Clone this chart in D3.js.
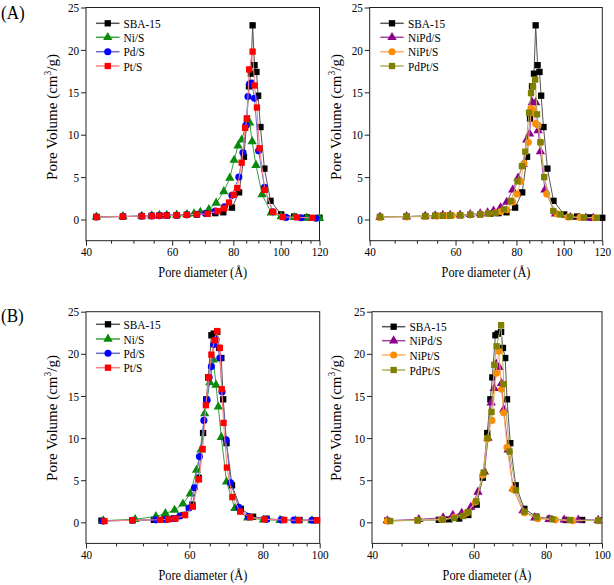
<!DOCTYPE html>
<html><head><meta charset="utf-8">
<script src="https://cdn.jsdelivr.net/npm/d3@7"></script>
<style>
html,body{margin:0;padding:0;background:#fff;}
svg{display:block;font-family:"Liberation Serif","Times New Roman",serif;}
</style></head><body>
<svg id="chart" width="614" height="585"></svg>
<script>
// ---------- DATA: [pore diameter (Å), pore volume (cm3/g)] ----------
const sbaA = [[42,0.3],[47.6,0.35],[52,0.4],[54.5,0.42],[56.5,0.45],[58.5,0.48],[61.3,0.5],[64.3,0.55],[67.4,0.6],[70.7,0.7],[73.5,0.75],[76.3,0.85],[79.5,1.4],[82.2,3.2],[84.1,7.4],[85.3,11.9],[86.1,15.7],[86.9,17.2],[87.6,22.9],[88.4,18.2],[89.2,17.4],[89.9,14.6],[90.9,10.9],[92.6,6.0],[95.3,2.2],[100.2,0.6],[106.5,0.35],[113,0.25],[120,0.2]];
const niA  = [[42,0.3],[47.6,0.35],[52,0.4],[54.5,0.45],[56.5,0.5],[58.5,0.5],[61.3,0.55],[64.3,0.6],[66.5,0.7],[68.5,0.87],[71.3,1.2],[73.8,1.95],[76.5,3.3],[78.7,4.9],[80.3,7.0],[81.8,8.7],[83.2,9.4],[85,11.2],[86.4,11.4],[87.4,9.2],[89,6.4],[91.6,2.95],[95.6,0.8],[100.2,0.35],[106.5,0.25],[113,0.2],[120,0.15]];
const pdA  = [[42,0.3],[47.6,0.35],[52,0.4],[54.5,0.42],[56.5,0.45],[58.5,0.48],[61.3,0.5],[64.3,0.55],[67.4,0.6],[70.2,0.7],[73.5,1.0],[76.7,1.5],[79.5,2.85],[82.1,5.0],[83.7,7.9],[84.9,11.1],[85.7,14.5],[86.4,16.0],[87.2,16.1],[88.4,14.3],[90.1,8.1],[92.6,3.8],[96.3,0.9],[102.5,0.25],[110,0.2],[118,0.15]];
const ptA  = [[42,0.3],[47.6,0.35],[52,0.4],[54.5,0.42],[56.5,0.45],[58.5,0.48],[61.3,0.5],[64.3,0.55],[67.4,0.6],[70.9,0.67],[74.3,1.0],[76.5,1.3],[78.4,2.0],[80.1,2.9],[81.5,3.7],[83.2,6.7],[84.6,10.8],[85.3,11.9],[86.2,17.7],[87.6,19.8],[88.4,15.8],[89.4,13.2],[90.5,8.4],[92.8,3.5],[96.5,0.9],[101,0.3],[108,0.25],[116,0.2]];
const npdA = [[42,0.3],[47.6,0.35],[52,0.4],[54.5,0.45],[56.5,0.5],[58.5,0.5],[61.3,0.55],[64.3,0.6],[67.4,0.7],[69.8,0.8],[71.8,1.0],[74.2,1.4],[76.4,2.05],[78.6,3.5],[80.6,4.9],[82.6,6.5],[84,9.4],[85.1,10.1],[86.2,13.8],[87.6,13.8],[88.6,10.5],[89.6,8.0],[91.5,3.5],[96.2,0.67],[103.2,0.25],[111,0.2],[115,0.15]];
const nptA = [[42,0.25],[47.6,0.3],[52,0.35],[55,0.4],[57,0.45],[59,0.48],[61.3,0.5],[64.3,0.55],[67.4,0.6],[70,0.7],[72.5,0.8],[74.3,0.95],[76.4,1.15],[78.6,2.05],[80.2,3.0],[81.6,4.5],[82.9,6.6],[84.6,9.1],[85.7,13.1],[86.4,12.9],[87,12.6],[87.6,11.3],[88.6,11.1],[89.6,9.1],[92.3,3.0],[96.9,0.67],[102,0.3],[108,0.25],[116,0.2]];
const pptA = [[42,0.3],[47.6,0.35],[52,0.4],[54.5,0.45],[56.5,0.45],[58.5,0.5],[61.3,0.5],[64.3,0.55],[67.4,0.6],[70,0.7],[72.4,0.75],[75.4,1.2],[77.9,2.2],[80.4,4.5],[82.1,6.3],[83.4,8.0],[84.9,12.6],[85.7,14.9],[86.5,15.7],[87.4,16.5],[88.2,12.4],[89.6,9.1],[91.2,5.0],[95.2,1.0],[98.5,0.6],[103,0.3],[110,0.25],[117,0.2]];

const sbaB = [[42.5,0.2],[48,0.25],[52.2,0.3],[54.4,0.36],[56.6,0.45],[58.7,0.87],[60.7,2.1],[62.2,5.3],[63.3,10.6],[64.1,14.6],[64.6,17.2],[65.4,22.2],[66.0,22.4],[66.9,22.6],[67.4,20.7],[68,19.5],[68.5,14.6],[69.4,9.4],[70.9,4.4],[73.4,1.6],[77,0.67],[81.2,0.43],[86.5,0.28],[92.4,0.28],[98.7,0.25]];
const niB  = [[42.8,0.2],[48.5,0.36],[52.6,0.7],[54.6,1.05],[56.6,1.45],[58.5,2.2],[60.2,3.4],[61.7,6.2],[62.8,8.6],[63.7,12.9],[65.0,16.6],[65.9,19.3],[66.6,16.3],[67.2,13.7],[68,10.1],[69.4,4.8],[71.7,1.66],[75.4,0.55],[80.2,0.3],[85.6,0.25],[91,0.2],[97,0.2]];
const pdB  = [[42.8,0.15],[48,0.25],[52.6,0.3],[54.8,0.35],[56.2,0.45],[57.8,0.75],[59.9,1.7],[61.2,4.1],[62.4,7.8],[63.5,12.1],[64.3,14.5],[64.8,17.2],[65.4,18.5],[66.0,21.1],[66.6,21.7],[67.6,19.5],[68.2,15.5],[69.3,9.8],[70.5,4.7],[72.8,1.78],[75.6,0.67],[81.2,0.36],[86,0.3],[90.4,0.28],[97,0.25]];
const ptB  = [[43,0.15],[48,0.25],[53.5,0.3],[55.2,0.35],[56.8,0.45],[59,0.87],[60.8,1.86],[62.3,5.1],[63.2,8.7],[64,13.9],[64.7,17.2],[65.4,19.9],[66.2,21.6],[66.9,22.7],[67.6,20.7],[68.1,15.8],[68.6,11.8],[69.5,6.5],[71,3.0],[73.2,1.27],[76.1,0.6],[80.5,0.36],[87,0.28],[92,0.25],[99,0.25]];
const npdB = [[42.5,0.2],[48.2,0.36],[53.1,0.55],[55.2,0.85],[57.2,1.1],[59.3,1.8],[61,3.6],[62.6,6.0],[63.5,10.0],[64.3,14.2],[65.1,15.9],[65.6,18.8],[66.4,18.4],[67,16.5],[67.6,13.4],[68.8,8.6],[70.2,4.0],[73,1.4],[76.5,0.55],[81,0.36],[86,0.3],[91,0.28],[98.5,0.25]];
const nptB = [[42.5,0.15],[48,0.25],[52.8,0.35],[55.5,0.6],[58.3,1.1],[60.4,2.4],[62.2,5.6],[63.3,9.9],[64.5,12.1],[65.6,17.7],[66.3,20.3],[67,15.8],[67.6,13.0],[68.5,8.9],[70.2,3.9],[73.4,1.15],[77.4,0.43],[83,0.3],[89,0.2],[98.5,0.2]];
const pptB = [[43,0.15],[48,0.25],[53,0.3],[55.5,0.5],[57.5,0.75],[58.6,1.2],[60.6,2.5],[62.4,5.9],[63.4,10.0],[64.4,13.1],[65.1,18.7],[65.7,20.9],[66.9,23.4],[67.6,16.4],[69.2,8.4],[71,3.8],[73.4,1.27],[77,0.6],[82,0.36],[88,0.28],[98.5,0.2]];

const namesSingle = ["SBA-15","Ni/S","Pd/S","Pt/S"];
const namesDouble = ["SBA-15","NiPd/S","NiPt/S","PdPt/S"];
const yTicks = [0,5,10,15,20,25];
const xMajorA = [40,60,80,100,120];
const xMinorA = [45,50,55,65,70,75,85,90,95,105,110,115];
const xMajorB = [40,60,80,100];
const xMinorB = [45,50,55,65,70,75,85,90,95];

// ---------- STYLES ----------
const styleSingle = [
  {color:"#000000", line:"#555555", shape:d3.symbolSquare, size:40},
  {color:"#0a8a0a", line:"#3aa03a", shape:d3.symbolTriangle, size:38},
  {color:"#0000ff", line:"#6a6ad0", shape:d3.symbolCircle, size:40},
  {color:"#ff0000", line:"#ff8080", shape:d3.symbolSquare, size:40}
];
const styleDouble = [
  {color:"#000000", line:"#555555", shape:d3.symbolSquare, size:40},
  {color:"#8b008b", line:"#a040a0", shape:d3.symbolTriangle, size:38},
  {color:"#ff8c00", line:"#ffb060", shape:d3.symbolCircle, size:40},
  {color:"#808000", line:"#b0b060", shape:d3.symbolSquare, size:40}
];

const panels = [
  {x0:86, x1:319.5, y0:7.5, y1:240.7, xmax:120, maj:xMajorA, min:xMinorA, data:[sbaA,niA,pdA,ptA], names:namesSingle, sty:styleSingle,
   lg:{lx0:96, lx1:119.5, tx:123.5, rows:[23.3,37.3,51.7,66]}, ytx:57, yty:117, xty:277},
  {x0:369.7, x1:602.3, y0:7.5, y1:240.7, xmax:120, maj:xMajorA, min:xMinorA, data:[sbaA,npdA,nptA,pptA], names:namesDouble, sty:styleDouble,
   lg:{lx0:380.3, lx1:403.7, tx:408, rows:[23.3,37.3,51.7,66]}, ytx:340.5, yty:117, xty:277},
  {x0:86, x1:319.7, y0:311.7, y1:543.4, xmax:100, maj:xMajorB, min:xMinorB, data:[sbaB,niB,pdB,ptB], names:namesSingle, sty:styleSingle,
   lg:{lx0:96, lx1:120, tx:123.5, rows:[324.3,339,353.3,367.7]}, ytx:57, yty:418, xty:580},
  {x0:372, x1:602, y0:311.7, y1:543.4, xmax:100, maj:xMajorB, min:xMinorB, data:[sbaB,npdB,nptB,pptB], names:namesDouble, sty:styleDouble,
   lg:{lx0:382, lx1:405.3, tx:409.5, rows:[326.7,340.7,355,370]}, ytx:340.5, yty:418, xty:580}
];

const svg = d3.select("#chart");
svg.append("rect").attr("width",614).attr("height",585).attr("fill","#fff");
const FONT = "Liberation Serif, Times New Roman, serif";

function addText(g, x, y, s, size, anchor, sx){
  return g.append("text")
    .attr("transform", `translate(${x},${y}) scale(${sx},1)`)
    .attr("text-anchor", anchor)
    .attr("font-family", FONT)
    .attr("font-size", size)
    .attr("fill", "#000")
    .text(s);
}

panels.forEach(p => {
  const g = svg.append("g");
  const x = d3.scaleLog().domain([40, p.xmax]).range([p.x0, p.x1]);
  const y = d3.scaleLinear().domain([-2.5, 25]).range([p.y1, p.y0]);

  // x major axis
  const xa = g.append("g").attr("transform", `translate(0,${p.y1})`)
    .call(d3.axisBottom(x).tickValues(p.maj).tickFormat(d3.format("d")).tickSize(5).tickSizeOuter(0).tickPadding(1.5));
  // x minor ticks
  const xm = g.append("g").attr("transform", `translate(0,${p.y1})`)
    .call(d3.axisBottom(x).tickValues(p.min).tickFormat(() => "").tickSize(3).tickSizeOuter(0));
  // y axis
  const ya = g.append("g").attr("transform", `translate(${p.x0},0)`)
    .call(d3.axisLeft(y).tickValues(yTicks).tickFormat(d3.format("d")).tickSize(5).tickSizeOuter(0).tickPadding(3));
  [xa, xm, ya].forEach(a => {
    a.attr("font-family", FONT).attr("font-size", 13);
    a.select(".domain").remove();
    a.selectAll("line").attr("stroke", "#222");
    a.selectAll("text").attr("fill", "#000").attr("transform", "scale(0.86,1)");
  });

  // frame
  g.append("rect").attr("x", p.x0).attr("y", p.y0)
    .attr("width", p.x1 - p.x0).attr("height", p.y1 - p.y0)
    .attr("fill", "none").attr("stroke", "#222").attr("stroke-width", 1);

  // series
  const line = d3.line().x(d => x(d[0])).y(d => y(d[1]));
  p.data.forEach((ser, i) => {
    const st = p.sty[i];
    g.append("path").datum(ser).attr("d", line)
      .attr("fill", "none").attr("stroke", st.line).attr("stroke-width", 1);
    g.selectAll(null).data(ser).enter().append("path")
      .attr("transform", d => `translate(${x(d[0])},${y(d[1])})`)
      .attr("d", d3.symbol().type(st.shape).size(st.size))
      .attr("fill", st.color);
  });

  // legend
  p.names.forEach((nm, i) => {
    const st = p.sty[i];
    const ry = p.lg.rows[i];
    g.append("line").attr("x1", p.lg.lx0).attr("x2", p.lg.lx1).attr("y1", ry).attr("y2", ry)
      .attr("stroke", st.line).attr("stroke-width", 1.5);
    g.append("path").attr("transform", `translate(${(p.lg.lx0 + p.lg.lx1) / 2},${ry})`)
      .attr("d", d3.symbol().type(st.shape).size(st.size)).attr("fill", st.color);
    addText(g, p.lg.tx, ry + 4.5, nm, 13.5, "start", 0.84);
  });

  // axis titles
  addText(g, (p.x0 + p.x1) / 2, p.xty, "Pore diameter (Å)", 14.5, "middle", 0.85);
  const yt = g.append("text")
    .attr("transform", `translate(${p.ytx},${p.yty}) rotate(-90)`)
    .attr("text-anchor", "middle").attr("font-family", FONT).attr("font-size", 15).attr("fill", "#000");
  yt.append("tspan").text("Pore Volume (cm");
  yt.append("tspan").attr("font-size", 9.5).attr("dy", -6).text("3");
  yt.append("tspan").attr("dy", 6).text("/g)");
});

// panel labels
addText(svg, 1, 19, "(A)", 19, "start", 0.9);
addText(svg, 1, 322, "(B)", 19, "start", 0.9);
</script></body></html>
